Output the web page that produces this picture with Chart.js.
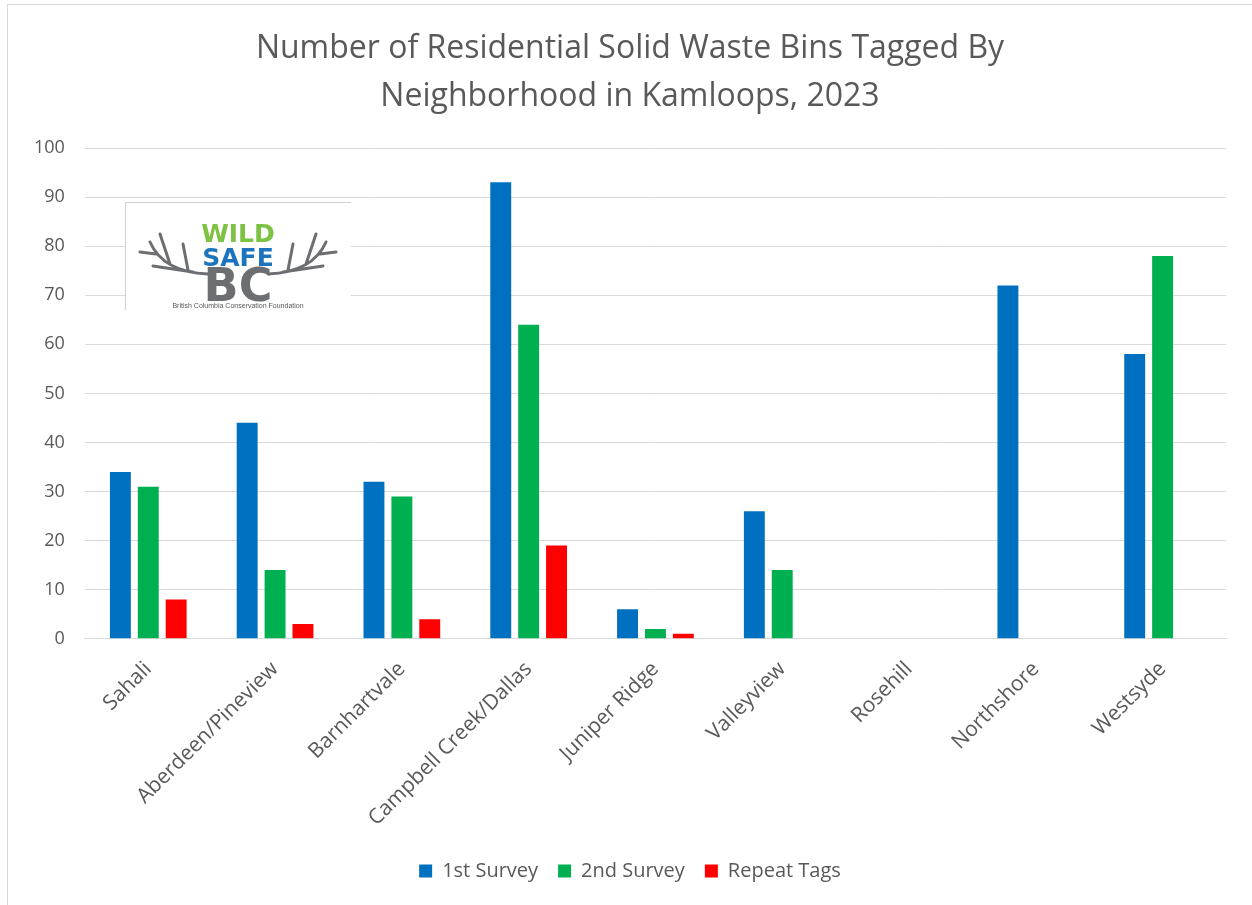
<!DOCTYPE html>
<html>
<head>
<meta charset="utf-8">
<script src="https://cdn.jsdelivr.net/npm/chart.js@4"></script>
<style>
  body { margin: 0; background: #fff; }
  #wrap { position: relative; width: 1252px; height: 905px; }
  #frame { position: absolute; left: 7px; top: 4px; right: -2px; bottom: -2px;
           border-left: 1px solid #d9d9d9; border-top: 1px solid #d9d9d9; }
</style>
</head>
<body>
<div id="wrap">
  <div id="frame"></div>
  <canvas id="binsChart"></canvas>
</div>
<script>
// Bins tagged per neighborhood, Kamloops 2023
const neighborhoods = ["Sahali", "Aberdeen/Pineview", "Barnhartvale", "Campbell Creek/Dallas",
  "Juniper Ridge", "Valleyview", "Rosehill", "Northshore", "Westsyde"];
const firstSurvey = [34, 44, 32, 93, 6, 26, 0, 72, 58];
const secondSurvey = [31, 14, 29, 64, 2, 14, 0, 0, 78];
const repeatTags = [8, 3, 4, 19, 1, 0, 0, 0, 0];

const grey = "#595959";

// rough stand-in for the WildSafeBC logo box
const logoBox = {
  id: "logoBox",
  afterDraw(chart) {
    const c = chart.ctx;
    const x = 125, y = 202, w = 226, h = 108;
    const mid = x + 113;
    c.save();
    c.fillStyle = "#fff";
    c.fillRect(x, y, w, h);
    c.strokeStyle = "#d0d0d0";
    c.lineWidth = 1;
    c.beginPath();
    c.moveTo(x + 0.5, y + h);
    c.lineTo(x + 0.5, y + 0.5);
    c.lineTo(x + w, y + 0.5);
    c.stroke();

    // antlers
    c.strokeStyle = "#6d6e71";
    c.lineWidth = 3;
    c.lineCap = "round";
    [-1, 1].forEach(s => {
      c.beginPath();
      c.moveTo(mid + s * 30, y + 72);
      c.quadraticCurveTo(mid + s * 75, y + 70, mid + s * 88, y + 40);
      c.moveTo(mid + s * 50, y + 68);
      c.lineTo(mid + s * 55, y + 42);
      c.moveTo(mid + s * 68, y + 62);
      c.lineTo(mid + s * 78, y + 32);
      c.moveTo(mid + s * 82, y + 52);
      c.lineTo(mid + s * 98, y + 50);
      c.moveTo(mid + s * 45, y + 70);
      c.lineTo(mid + s * 85, y + 64);
      c.stroke();
    });

    c.textAlign = "center";
    c.textBaseline = "alphabetic";
    c.font = "900 25px 'DejaVu Sans'";
    c.fillStyle = "#7dc242";
    c.fillText("WILD", mid, y + 40);
    c.fillStyle = "#1c75bc";
    c.fillText("SAFE", mid, y + 64);
    c.font = "900 46px 'DejaVu Sans'";
    c.fillStyle = "#6d6e71";
    c.fillText("BC", mid, y + 99);
    c.font = "7px 'Liberation Sans'";
    c.fillStyle = "#58595b";
    c.fillText("British Columbia Conservation Foundation", mid, y + 106);
    c.restore();
  }
};

new Chart(document.getElementById("binsChart"), {
  type: "bar",
  data: {
    labels: neighborhoods,
    datasets: [
      { label: "1st Survey", data: firstSurvey, backgroundColor: "#0070c0" },
      { label: "2nd Survey", data: secondSurvey, backgroundColor: "#00b050" },
      { label: "Repeat Tags", data: repeatTags, backgroundColor: "#ff0000" }
    ]
  },
  options: {
    responsive: true,
    maintainAspectRatio: false,
    animation: false,
    categoryPercentage: 0.66,
    barPercentage: 0.75,
    layout: { padding: { left: 34, right: 26, top: 25, bottom: 14 } },
    scales: {
      x: {
        grid: { display: false, drawTicks: false },
        border: { color: "#d9d9d9" },
        afterFit(axis) { axis.height -= 8; },
        ticks: {
          color: grey,
          font: { family: "'Open Sans'", size: 21 },
          minRotation: 45,
          maxRotation: 45,
          padding: 18
        }
      },
      y: {
        min: 0,
        max: 100,
        grid: { color: "#d9d9d9", drawTicks: false },
        border: { display: false },
        afterFit(axis) { axis.width -= 20; },
        ticks: {
          stepSize: 10,
          color: grey,
          font: { family: "'Open Sans'", size: 18 },
          padding: 20
        }
      }
    },
    plugins: {
      title: {
        display: true,
        text: ["Number of Residential Solid Waste Bins Tagged By", "Neighborhood in Kamloops, 2023"],
        color: grey,
        font: { family: "'Open Sans'", size: 32, weight: "normal", lineHeight: 1.5 },
        padding: { top: 0, bottom: 27 }
      },
      legend: {
        position: "bottom",
        labels: {
          color: grey,
          font: { family: "'Open Sans'", size: 20 },
          boxWidth: 13,
          boxHeight: 13,
          padding: 20
        }
      },
      tooltip: { enabled: false }
    }
  },
  plugins: [logoBox]
});
</script>
</body>
</html>
